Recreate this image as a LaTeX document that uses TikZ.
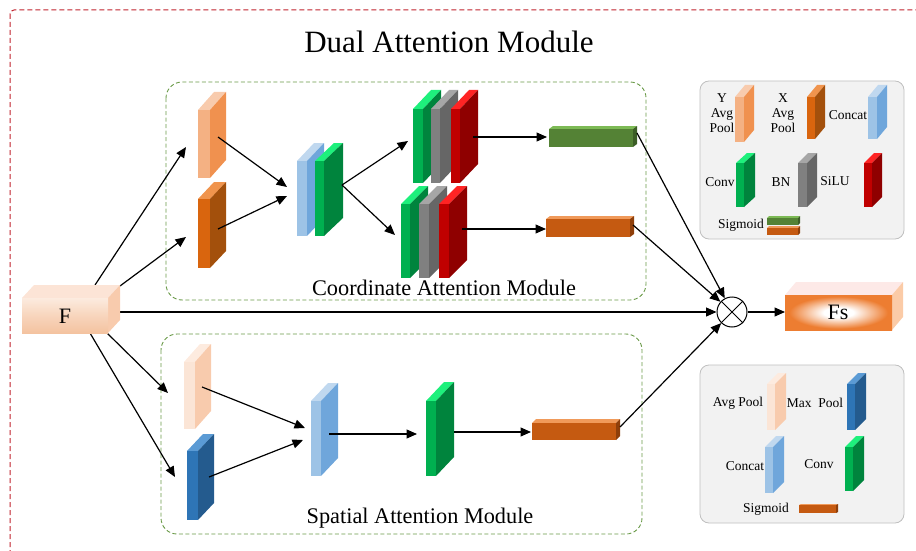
\documentclass[tikz,border=0pt]{standalone}
\usepackage{fontspec}
\setmainfont{Liberation Serif}
\usetikzlibrary{arrows.meta}
\definecolor{cYf}{HTML}{F4B183}\definecolor{cYs}{HTML}{F0914F}\definecolor{cYt}{HTML}{F8CBAD}
\definecolor{cXf}{HTML}{D9650E}\definecolor{cXs}{HTML}{A3500C}\definecolor{cXt}{HTML}{F0944D}
\definecolor{cCf}{HTML}{9DC3E6}\definecolor{cCs}{HTML}{6FA6DB}\definecolor{cCt}{HTML}{C0D8EF}
\definecolor{cGf}{HTML}{00B050}\definecolor{cGs}{HTML}{00843D}\definecolor{cGt}{HTML}{1EF07C}
\definecolor{cBf}{HTML}{808080}\definecolor{cBs}{HTML}{666666}\definecolor{cBt}{HTML}{A6A6A6}
\definecolor{cRf}{HTML}{C00000}\definecolor{cRs}{HTML}{8F0000}\definecolor{cRt}{HTML}{FF2424}
\definecolor{cSGf}{HTML}{548235}\definecolor{cSGs}{HTML}{3C5E26}\definecolor{cSGt}{HTML}{7DBA55}
\definecolor{cSOf}{HTML}{C55A11}\definecolor{cSOs}{HTML}{8F3F0A}\definecolor{cSOt}{HTML}{F09A5A}
\definecolor{cAf}{HTML}{FBE5D6}\definecolor{cAs}{HTML}{F8CBAD}\definecolor{cAt}{HTML}{FDEBDF}
\definecolor{cMf}{HTML}{2E75B6}\definecolor{cMs}{HTML}{245B8E}\definecolor{cMt}{HTML}{5B9BD5}
\definecolor{fTop}{HTML}{FCE4D6}\definecolor{fSide}{HTML}{F8CBAD}
\definecolor{fA}{HTML}{FCEBDF}\definecolor{fB}{HTML}{F4C3A0}
\definecolor{fsOut}{HTML}{ED7D31}\definecolor{fsSide}{HTML}{FBCBA7}\definecolor{fsTop}{HTML}{FDE9E7}
\definecolor{boxgreen}{HTML}{6A9A48}\definecolor{boxred}{HTML}{C0222C}
\definecolor{legfill}{HTML}{F2F2F2}\definecolor{legdraw}{HTML}{BFBFBF}
\pgfdeclareradialshading{fsshade}{\pgfpoint{0bp}{0bp}}{color(0bp)=(white); color(7bp)=(white); color(23bp)=(fsOut); color(50bp)=(fsOut)}
\pgfkeys{/blk/.cd, front/.store in=\bF, side/.store in=\bS, top/.store in=\bT,
 yavg/.style={front=cYf,side=cYs,top=cYt},
 xavg/.style={front=cXf,side=cXs,top=cXt},
 cat/.style={front=cCf,side=cCs,top=cCt},
 conv/.style={front=cGf,side=cGs,top=cGt},
 bn/.style={front=cBf,side=cBs,top=cBt},
 silu/.style={front=cRf,side=cRs,top=cRt},
 sigg/.style={front=cSGf,side=cSGs,top=cSGt},
 sigo/.style={front=cSOf,side=cSOs,top=cSOt},
 avgs/.style={front=cAf,side=cAs,top=cAt},
 maxs/.style={front=cMf,side=cMs,top=cMt}}
% \slab[palette]{name}{x}{y}{w}{h}{dx}{dy}
\newcommand{\slab}[8][]{%
 \pgfkeys{/blk/.cd,#1}%
 \fill[\bT] (#3,#4) -- ({#3+#7},{#4-#8}) -- ({#3+#5+#7},{#4-#8}) -- ({#3+#5},#4) -- cycle;
 \fill[\bS] ({#3+#5},#4) -- ({#3+#5+#7},{#4-#8}) -- ({#3+#5+#7},{#4+#6-#8}) -- ({#3+#5},{#4+#6}) -- cycle;
 \fill[\bF] (#3,#4) rectangle ({#3+#5},{#4+#6});
 \coordinate (#2) at ({#3+#5+#7/2},{#4+#6/2-#8/2});
}
\tikzset{
 arr/.style={line width=1.2pt,-{Triangle[length=10.5pt,width=9pt]}},
 modbox/.style={draw=boxgreen,line width=0.9pt,dash pattern=on 4pt off 2.5pt,rounded corners=16pt},
 legbox/.style={draw=legdraw,fill=legfill,line width=0.8pt,rounded corners=9pt},
 leg/.style={font=\fontsize{13.5}{15}\selectfont,align=center,inner sep=0pt},
 modlabel/.style={font=\fontsize{22.3}{24}\selectfont,anchor=base,inner sep=0pt}
}
\begin{document}
\begin{tikzpicture}[x=1pt,y=-1pt]
\useasboundingbox (0,0) rectangle (916,551);
\clip (0,0) rectangle (916,551);
% outer border
\draw[boxred,line width=1pt,dash pattern=on 5pt off 3pt,rounded corners=4pt] (10,10) rectangle (960,600);
\node[font=\fontsize{31}{33}\selectfont,anchor=base,inner sep=0pt] (title) at (449,53) {Dual Attention Module};
% module boxes
\draw[modbox] (166,82) rectangle (646,300);
\draw[modbox] (161,334) rectangle (642,534);
\node[modlabel] (calabel) at (444,295) {Coordinate Attention Module};
\node[modlabel] (salabel) at (420,523) {Spatial Attention Module};
% legend boxes
\draw[legbox] (700,81) rectangle (904,239);
\draw[legbox] (700,365) rectangle (904,523);

% ---- Coordinate attention blocks
\slab[yavg]{yavg}{198}{110}{12}{68}{16}{18}
\slab[xavg]{xavg}{198}{199}{12}{69}{16}{17}
\slab[cat]{catA}{297}{161}{10}{75}{17}{18}
\slab[conv]{convA}{315}{161}{9}{75}{19}{18}
\slab[conv]{convT}{413}{109}{10}{74}{18}{19}
\slab[bn]{bnT}{431}{109}{9}{74}{18}{19}
\slab[silu]{siluT}{451}{109}{9}{74}{18}{19}
\slab[conv]{convL}{401}{204}{9}{74}{18}{18}
\slab[bn]{bnL}{419}{204}{10}{74}{18}{18}
\slab[silu]{siluL}{439}{204}{10}{74}{18}{18}
\slab[sigg]{barT}{549}{129}{84}{18}{4}{3}
\slab[sigo]{barL}{546}{219}{84}{18}{4}{3}

% ---- Spatial attention blocks
\slab[avgs]{avgS}{184}{362}{11}{67}{16}{18}
\slab[maxs]{maxS}{187}{451}{11}{69}{16}{17}
\slab[cat]{catS}{311}{401}{10}{75}{17}{18}
\slab[conv]{convS}{426}{401}{10}{75}{18}{19}
\slab[sigo]{barS}{532}{423}{84}{17}{4}{4}

% ---- coordinates for connectors
\coordinate (fa) at (95,285);
\coordinate (fb) at (120,286);
\coordinate (fc) at (107,333);
\coordinate (fd) at (90,333);
\coordinate (fe) at (120,312);
\coordinate (tY) at (186,147);
\coordinate (tX) at (186,237);
\coordinate (tAs) at (168,393);
\coordinate (tMs) at (175,477);
\coordinate (sY) at (218,137);
\coordinate (sX) at (218,229);
\coordinate (cA1) at (287,187);
\coordinate (cA2) at (287,196);
\coordinate (sConvA) at (342,185);
\coordinate (tT) at (408,141);
\coordinate (tL) at (395,235);
\coordinate (sRT) at (473,137);
\coordinate (tBT) at (547,137);
\coordinate (sRL) at (462,229);
\coordinate (tBL) at (546,229);
\coordinate (eBT) at (637,133);
\coordinate (eBL) at (633,225);
\coordinate (sAs) at (202,387);
\coordinate (sMs) at (209,477);
\coordinate (tCs1) at (305,428);
\coordinate (tCs2) at (303,440);
\coordinate (sCs) at (329,434);
\coordinate (tCv) at (417,434);
\coordinate (sCv) at (454,432);
\coordinate (tBs) at (531,432);
\coordinate (eBs) at (620,427);
\coordinate (fsW) at (785,312);

\node[circle,draw,fill=white,line width=1pt,minimum size=30pt,inner sep=0pt] (mul) at (732,312) {};
\draw[line width=1pt] (mul.north west) -- (mul.south east) (mul.north east) -- (mul.south west);

% ---- connectors
\draw[arr] (fa) -- (tY);
\draw[arr] (fb) -- (tX);
\draw[arr] (fc) -- (tAs);
\draw[arr] (fd) -- (tMs);
\draw[arr] (fe) -- (mul);
\draw[arr] (sY) -- (cA1);
\draw[arr] (sX) -- (cA2);
\draw[arr] (sConvA) -- (tT);
\draw[arr] (sConvA) -- (tL);
\draw[arr] (sRT) -- (tBT);
\draw[arr] (sRL) -- (tBL);
\draw[arr] (eBT) -- (mul);
\draw[arr] (eBL) -- (mul);
\draw[arr] (sAs) -- (tCs1);
\draw[arr] (sMs) -- (tCs2);
\draw[arr] (sCs) -- (tCv);
\draw[arr] (sCv) -- (tBs);
\draw[arr] (eBs) -- (mul);
\draw[arr] (mul) -- (fsW);

% ---- F block
\fill[fTop] (22,298) -- (34,285) -- (120,285) -- (108,298) -- cycle;
\fill[fSide] (108,298) -- (120,285) -- (120,320) -- (108,333) -- cycle;
\shade[top color=fA,bottom color=fB,middle color=fA!45!fB] (22,298) rectangle (108,333);
\node[font=\fontsize{22}{24}\selectfont,anchor=base,inner sep=0pt] (F) at (65,323) {F};

% ---- Fs block
\fill[fsTop] (785,295) -- (796,282) -- (903,282) -- (892,295) -- cycle;
\fill[fsSide] (892,295) -- (903,282) -- (903,317) -- (892,330) -- cycle;
\shade[shading=fsshade] (785,295) rectangle (892,330);
\node[font=\fontsize{22}{24}\selectfont,anchor=base,inner sep=0pt] (Fs) at (838,319) {Fs};

% ---- legend 1
\slab[yavg]{l1}{735}{97}{9}{45}{10}{12}
\slab[xavg]{l2}{807}{97}{8}{42}{10}{12}
\slab[cat]{l3}{868}{97}{9}{42}{10}{12}
\slab[conv]{l4}{736}{163}{8}{44}{11}{10}
\slab[bn]{l5}{798}{163}{9}{44}{10}{10}
\slab[silu]{l6}{864}{163}{8}{44}{10}{10}
\slab[sigg]{l7}{767}{218}{31}{7}{2}{2}
\slab[sigo]{l8}{767}{228}{31}{7}{2}{2}
\node[leg] (lt1) at (722,113) {Y\\Avg\\Pool};
\node[leg] (lt2) at (783,113) {X\\Avg\\Pool};
\node[leg] (lt3) at (848,115) {Concat};
\node[leg] (lt4) at (720,182) {Conv};
\node[leg] (lt5) at (781,182) {BN};
\node[leg] (lt6) at (835,181) {SiLU};
\node[leg] (lt7) at (741,225) {Sigmoid};

% ---- legend 2
\slab[avgs]{m1}{767}{384}{8}{46}{11}{11}
\slab[maxs]{m2}{847}{384}{8}{46}{11}{11}
\slab[cat]{m3}{765}{447}{8}{46}{11}{11}
\slab[conv]{m4}{845}{447}{8}{44}{11}{11}
\slab[sigo]{m5}{799}{505}{37}{8}{2}{1}
\node[leg] (mt1) at (738,403) {Avg Pool};
\node[leg] (mt2) at (815,403) {Max\ \ Pool};
\node[leg] (mt3) at (745,466) {Concat};
\node[leg] (mt4) at (819,464) {Conv};
\node[leg] (mt5) at (766,509) {Sigmoid};
\end{tikzpicture}
\end{document}
